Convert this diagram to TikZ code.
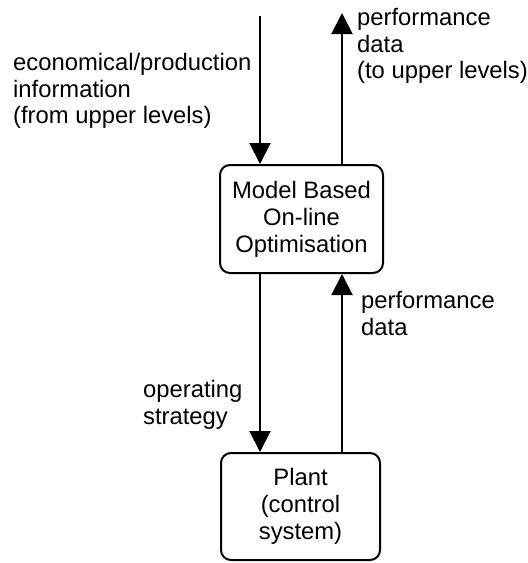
\documentclass[tikz,border=0pt]{standalone}
\usepackage{fontspec}
\setmainfont{Liberation Sans}
\usetikzlibrary{arrows.meta}
\begin{document}
\begin{tikzpicture}[x=1pt,y=-1pt,
  every node/.style={font=\fontsize{23.8}{26.3}\selectfont, inner sep=0pt},
  blk/.style={draw, line width=2pt, rounded corners=10pt, align=center, font=\fontsize{23.8}{27}\selectfont},
  lbl/.style={align=left, anchor=base west},
  arr/.style={line width=2pt, -{Triangle[length=21pt,width=21pt]}}]
\useasboundingbox (0,0) rectangle (528,563);
\node[blk, minimum width=163pt, minimum height=108pt] (m) at (301.5,219) {Model Based\\On-line\\Optimisation};
\node[blk, minimum width=159pt, minimum height=107pt] (p) at (300.5,506.5) {Plant\\(control\\system)};
\coordinate (in) at (260,16);
\coordinate (out) at (342,13);
\draw[arr] (in) -- (m.north -| in);
\draw[arr] (m.north -| out) -- (out);
\draw[arr] (m.south -| in) -- (p.north -| in);
\draw[arr] (p.north -| out) -- (m.south -| out);
\node[lbl] (l1) at (13,123.5) {economical/production\\information\\(from upper levels)};
\node[lbl] (l2) at (357,78.5) {performance\\data\\(to upper levels)};
\node[lbl] (l3) at (361,335) {performance\\data};
\node[lbl] (l4) at (143,424) {operating\\strategy};
\end{tikzpicture}
\end{document}
